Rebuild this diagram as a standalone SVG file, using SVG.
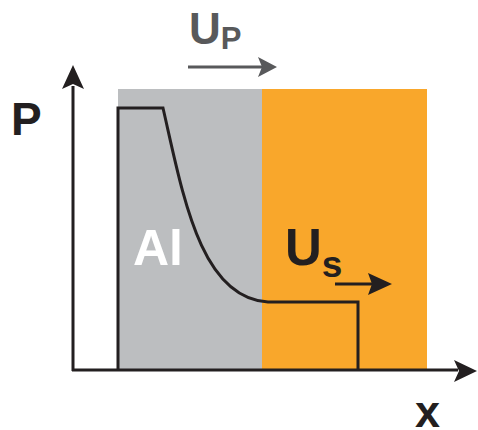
<svg xmlns="http://www.w3.org/2000/svg" width="478" height="430" viewBox="0 0 478 430">
<style>
.lbl{font-family:"Liberation Sans",Arial,sans-serif;font-weight:bold}
.ax{stroke:#231f20;stroke-width:3;fill:none}
</style>
<rect width="478" height="430" fill="#fff"/>
<g id="al-region"><rect x="118" y="89" width="144" height="281" fill="#bcbec0"/></g>
<g id="target-region"><rect x="262" y="89" width="165" height="281" fill="#f9a72b"/></g>
<g id="connectors">
<path class="ax" d="M73,371 V86"/>
<polygon points="73,65 84,89 73,84 62,89" fill="#231f20"/>
<path class="ax" d="M72,370 H458"/>
<polygon points="477,371 454,360 459,371 454,382" fill="#231f20"/>
<path d="M188,67 H262" stroke="#58595b" stroke-width="3" fill="none"/>
<polygon points="277,67 258,57 262,67 258,77" fill="#58595b"/>
<path d="M335,284 H372" stroke="#231f20" stroke-width="3" fill="none"/>
<polygon points="392,284 368,273 372,284 368,295" fill="#231f20"/>
</g>
<g id="profile">
<path class="ax" d="M118,370 V108 H163 C183,195 200,298 268,302 H358 V370"/>
</g>
<g id="labels">
<text class="lbl" x="11" y="135" font-size="46" fill="#231f20">P</text>
<text class="lbl" x="415" y="427" font-size="45" fill="#231f20">x</text>
<text class="lbl" x="133" y="265" font-size="50" fill="#fff">Al</text>
<text class="lbl" x="189" y="44" font-size="44" fill="#58595b">U<tspan font-size="31" dy="5">P</tspan></text>
<text class="lbl" x="285" y="265" font-size="51" fill="#231f20">U<tspan font-size="37" dy="12">s</tspan></text>
</g>
</svg>
